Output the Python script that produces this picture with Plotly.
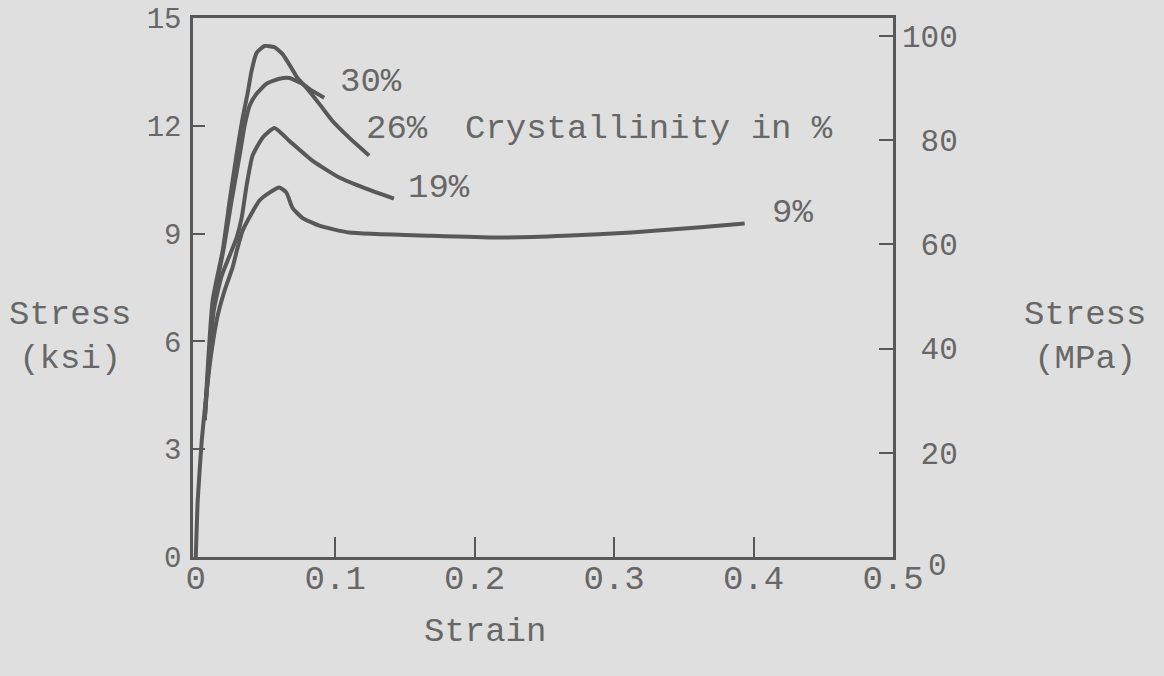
import plotly.graph_objects as go

# Strain (x) and stress in ksi (y)
x30 = [0.0064, 0.0121, 0.0193, 0.0243, 0.0300, 0.0336, 0.0371, 0.0400, 0.0436, 0.0493,
       0.0564, 0.0621, 0.0686, 0.0729, 0.0793, 0.0886, 0.0979, 0.1100, 0.1243]
y30 = [3.81, 7.14, 8.53, 9.92, 11.39, 12.22, 12.89, 13.53, 14.03, 14.22,
       14.19, 14.00, 13.61, 13.33, 13.06, 12.61, 12.14, 11.67, 11.17]

x26 = [0.0064, 0.0129, 0.0200, 0.0257, 0.0314, 0.0350, 0.0386, 0.0436, 0.0507, 0.0600,
       0.0671, 0.0764, 0.0836, 0.0921]
y26 = [3.81, 7.14, 8.58, 9.92, 11.17, 12.00, 12.56, 12.89, 13.17, 13.31,
       13.33, 13.17, 12.97, 12.78]

x19 = [0.0064, 0.0129, 0.0186, 0.0243, 0.0293, 0.0329, 0.0364, 0.0407, 0.0479, 0.0564,
       0.0671, 0.0836, 0.1029, 0.1221, 0.1421]
y19 = [3.81, 6.86, 7.83, 8.39, 8.89, 9.44, 10.33, 11.17, 11.67, 11.94,
       11.58, 11.03, 10.56, 10.25, 9.97]

x9 = [0.0, 0.0014, 0.0043, 0.0071, 0.0114, 0.0157, 0.0207, 0.0264, 0.0300, 0.0336,
      0.0400, 0.0457, 0.0529, 0.0600, 0.0650, 0.0693, 0.0764, 0.0886, 0.1100, 0.1693,
      0.2171, 0.2650, 0.3121, 0.3600, 0.3936]
y9 = [0.0, 1.58, 3.25, 4.36, 5.75, 6.72, 7.42, 8.06, 8.61, 9.08,
      9.56, 9.92, 10.14, 10.28, 10.14, 9.72, 9.44, 9.22, 9.03, 8.94,
      8.89, 8.94, 9.03, 9.17, 9.28]

x_ticks = [0, 0.1, 0.2, 0.3, 0.4, 0.5]
x_ticktext = ["0", "0.1", "0.2", "0.3", "0.4", "0.5"]
ksi_ticks = [0, 3, 6, 9, 12, 15]
mpa_ticks = [0, 20, 40, 60, 80, 100]
mpa_ticktext = ["", "\u00a020", "\u00a040", "\u00a060", "\u00a080", "100"]
mpa_zero_label = "0"
KSI_TO_MPA = 6.895

curve_labels = ["30%", "26%", "19%", "9%", "Crystallinity in %"]
label_x = [0.1257, 0.1443, 0.1743, 0.4279, 0.325]
label_y = [13.22, 11.92, 10.28, 9.56, 11.92]

LINE = "#585858"
TEXT = "#676767"
BG = "#dfdfdf"
FONT = "Liberation Mono"

W, H = 1164, 676
ml, mr, mt, mb = 193, 271, 18, 119
pw, ph = W - ml - mr, H - mt - mb

fig = go.Figure()
for xs, ys, name in [(x30, y30, "30%"), (x26, y26, "26%"), (x19, y19, "19%"), (x9, y9, "9%")]:
    fig.add_trace(go.Scatter(x=xs, y=ys, mode="lines", name=name,
                             line=dict(color=LINE, width=4, shape="spline", smoothing=0.5),
                             showlegend=False, hoverinfo="skip"))

# invisible trace for the MPa axis
fig.add_trace(go.Scatter(x=[0], y=[0], yaxis="y2", mode="markers",
                         marker=dict(opacity=0), showlegend=False, hoverinfo="skip"))

annotations = []
for t, ax, ay in zip(curve_labels, label_x, label_y):
    annotations.append(dict(x=ax, y=ay, xref="x", yref="y", text=t, showarrow=False,
                            xanchor="center", yanchor="middle",
                            font=dict(family=FONT, size=34, color=TEXT)))


def px2paper(px, py):
    return (px - ml) / pw, (H - mb - py) / ph


for text, (px, py) in [("Stress<br>(ksi)", (70, 337)),
                       ("Stress<br>(MPa)", (1085, 337)),
                       ("Strain", (485, 632))]:
    ax, ay = px2paper(px, py)
    annotations.append(dict(x=ax, y=ay, xref="paper", yref="paper", text=text,
                            showarrow=False, xanchor="center", yanchor="middle",
                            font=dict(family=FONT, size=34, color=TEXT), align="center"))

# the MPa axis "0" sits just right of and below the 0.5 strain label
annotations.append(dict(x=1, y=0, xref="paper", yref="y2", text=mpa_zero_label,
                        showarrow=False, xanchor="left", yanchor="middle",
                        xshift=33, yshift=-9,
                        font=dict(family=FONT, size=31, color=TEXT)))

fig.update_layout(
    annotations=annotations,
    width=W, height=H, autosize=False,
    margin=dict(l=ml, r=mr, t=mt, b=mb, pad=0, autoexpand=False),
    paper_bgcolor=BG, plot_bgcolor=BG,
    font=dict(family=FONT, size=30, color=TEXT),
    xaxis=dict(range=[-0.002, 0.5], tickvals=x_ticks, ticktext=x_ticktext,
               showgrid=False, zeroline=False, showline=True, mirror=True, automargin=False,
               linecolor=LINE, linewidth=2.5, ticks="inside", ticklen=20, tickwidth=2,
               tickcolor=LINE, ticklabelstandoff=-12,
               tickfont=dict(family=FONT, size=34, color=TEXT)),
    yaxis=dict(range=[0, 15], tickvals=ksi_ticks, showgrid=False, zeroline=False,
               automargin=False,
               showline=True, linecolor=LINE, linewidth=2.5, ticks="inside", ticklen=12,
               tickwidth=2, tickcolor=LINE, ticklabelstandoff=3,
               tickfont=dict(family=FONT, size=29, color=TEXT)),
    yaxis2=dict(range=[0, 15 * KSI_TO_MPA], overlaying="y", side="right",
                automargin=False,
                tickvals=mpa_ticks, ticktext=mpa_ticktext, showgrid=False, zeroline=False,
                showline=True, linecolor=LINE, linewidth=2.5, ticks="inside", ticklen=14,
                tickwidth=2, tickcolor=LINE, ticklabelstandoff=0,
                tickfont=dict(family=FONT, size=31, color=TEXT)),
)

fig.write_html("out.html", config={"displayModeBar": False},
               post_script="document.body.style.margin='0';"
                           "document.body.style.background='#dfdfdf';"
                           "document.body.style.overflow='hidden';"
                           "var d=document.getElementsByClassName('plotly-graph-div')[0];"
                           "d.style.position='absolute';d.style.top='0px';d.style.left='0px';")
